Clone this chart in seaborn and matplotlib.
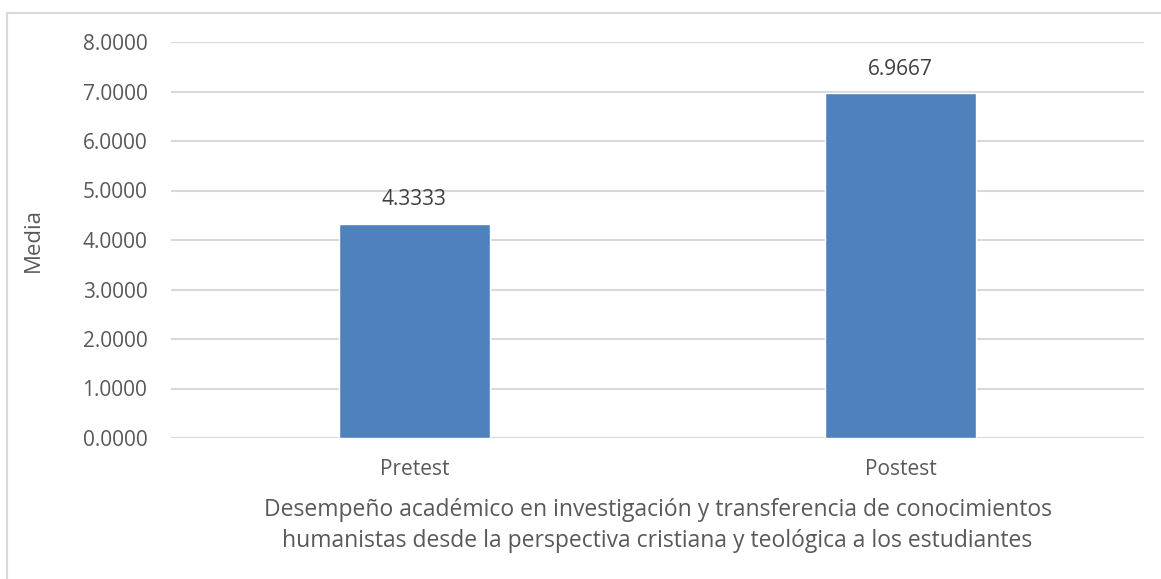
import seaborn as sns
import matplotlib.pyplot as plt
import pandas as pd
from matplotlib.patches import Rectangle

# chart values
grupos = ["Pretest", "Postest"]
medias = [4.3333, 6.9667]
etiquetas = ["4.3333", "6.9667"]
yticks = [0, 1, 2, 3, 4, 5, 6, 7, 8]

data = pd.DataFrame({"grupo": grupos, "media": medias})

sns.set_style("white")
plt.rcParams['font.family'] = ['Open Sans', 'DejaVu Sans']

fig = plt.figure(figsize=(11.61, 5.79), dpi=100)
ax = fig.add_axes([171 / 1161, 1 - 438 / 579, (1144 - 171) / 1161, (438 - 42) / 579])

# outer chart border (cut off at right and bottom, like the source)
fig.patches.append(Rectangle((7 / 1161, -0.1), 1.2, (0.1 + 1 - 13 / 579),
                             transform=fig.transFigure, fill=False,
                             edgecolor="#D9D9D9", linewidth=1.5, zorder=0))

sns.barplot(data=data, x="grupo", y="media", color="#4F81BD", width=0.31,
            saturation=1, ax=ax, zorder=3)

ax.set_ylim(0, 8)
ax.set_xlim(-0.5, 1.5)
ax.set_yticks(yticks)
ax.set_yticklabels([f"{v:.4f}" for v in yticks])
ax.yaxis.grid(True, color="#D9D9D9", linewidth=1.5)
ax.set_axisbelow(True)
for s in ax.spines.values():
    s.set_visible(False)
ax.tick_params(axis="both", length=0, labelsize=15, colors="#595959")
ax.tick_params(axis="y", pad=17)
ax.tick_params(axis="x", pad=15)

for bar, txt in zip(ax.patches, etiquetas):
    ax.annotate(txt, (bar.get_x() + bar.get_width() / 2, bar.get_height()),
                xytext=(0, 17), textcoords="offset points", ha="center",
                va="center", fontsize=15, color="#404040")

ax.set_ylabel("Media", fontsize=16, color="#595959", labelpad=28)
ax.set_xlabel("Desempeño académico en investigación y transferencia de conocimientos\n"
              "humanistas desde la perspectiva cristiana y teológica a los estudiantes",
              fontsize=16.5, color="#595959", labelpad=13, linespacing=1.4)

fig.savefig("out.png", dpi=100)
